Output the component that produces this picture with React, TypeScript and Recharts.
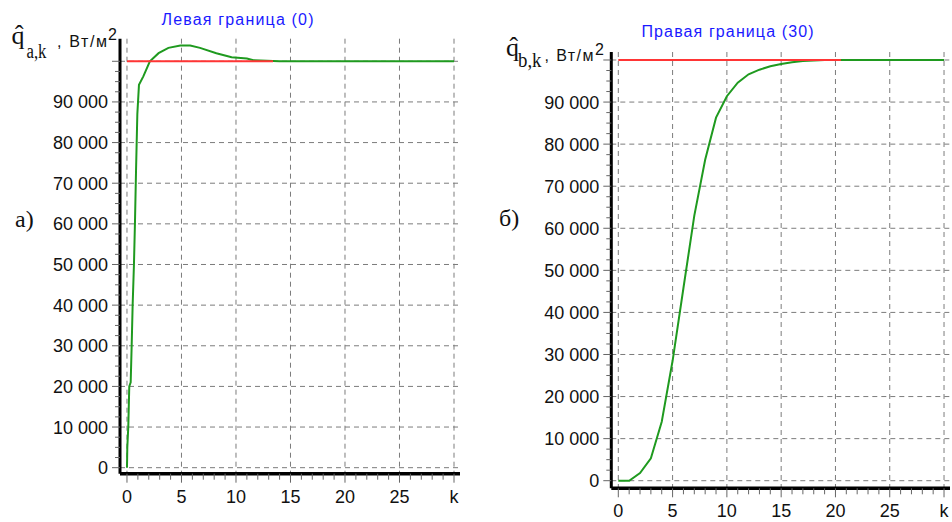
import React from "react";
import { LineChart, Line, XAxis, YAxis, CartesianGrid } from "recharts";

// Left boundary (0): estimated heat flux vs iteration k
const kLeft = [0, 0.03, 0.12, 0.21, 0.34, 0.43, 0.52, 0.64, 0.73, 0.83, 0.95, 1.1, 1.5, 2.1, 2.9, 3.8, 4.9, 5.8, 6.7, 8.2, 9.6, 11, 11.6, 13.4, 14, 30];
const qLeft = [0, 5000, 10000, 20000, 21000, 30000, 40000, 50000, 60000, 73000, 87000, 94200, 96300, 100000, 102000, 103300, 103900, 103900, 103300, 102000, 101000, 100700, 100250, 100100, 100000, 100000];
// Left boundary: exact flux
const kLeftExact = [0, 13.4];
const qLeftExact = [100000, 100000];

// Right boundary (30): estimated heat flux vs iteration k
const kRight = [0, 1, 2, 3, 4, 5, 6, 7, 8, 9, 10, 11, 12, 13, 14, 15, 16, 17, 18, 19, 20, 30];
const qRight = [0, 0, 1800, 5300, 14000, 28500, 45800, 63000, 76300, 86300, 91400, 94600, 96600, 97700, 98500, 99050, 99450, 99750, 99900, 100000, 100000, 100000];
// Right boundary: exact flux
const kRightExact = [0, 20.5];
const qRightExact = [100000, 100000];

// Axis ticks
const xMajor = [0, 5, 10, 15, 20, 25, 30];
const xLabels = ["0", "5", "10", "15", "20", "25", "k"];
const xMinor = Array.from({ length: 31 }, (_, i) => i);
const yMajor = [0, 10000, 20000, 30000, 40000, 50000, 60000, 70000, 80000, 90000, 100000];
const yLabels = ["0", "10 000", "20 000", "30 000", "40 000", "50 000", "60 000", "70 000", "80 000", "90 000", ""];
const yMinor = Array.from({ length: 41 }, (_, i) => i * 2500);

const SANS = "'Liberation Sans', Arial, sans-serif";
const SERIF = "'Liberation Serif', 'Times New Roman', serif";
const GREEN = "#1f9a1f";
const RED = "#ff3535";

const toRows = (ks: number[], qs: number[]) => ks.map((k, i) => ({ k, q: qs[i] }));

const YTick = (props: any) => {
  const { x, y, payload } = props;
  const v = payload.value;
  const idx = yMajor.indexOf(v);
  const major = idx >= 0;
  return (
    <g>
      <line x1={x - (major ? 8 : 5)} x2={x} y1={y} y2={y} stroke="#666" strokeWidth={1} />
      {major && yLabels[idx] !== "" && (
        <text x={x - 12} y={y} dy="0.36em" textAnchor="end" fontSize={18} fontFamily={SANS} fill="#111">
          {yLabels[idx]}
        </text>
      )}
    </g>
  );
};

const XTick = (props: any) => {
  const { x, y, payload } = props;
  const v = payload.value;
  const idx = xMajor.indexOf(v);
  const major = idx >= 0;
  return (
    <g>
      <line x1={x} x2={x} y1={y} y2={y + (major ? 9 : 6)} stroke="#666" strokeWidth={1} />
      {major && (
        <text x={x} y={y + 29} textAnchor="middle" fontSize={18} fontFamily={SANS} fill="#111">
          {xLabels[idx]}
        </text>
      )}
    </g>
  );
};

type PanelProps = {
  left: number;
  width: number;
  margin: { top: number; right: number; bottom: number; left: number };
  xDomain: [number, number];
  yDomain: [number, number];
  est: { k: number; q: number }[];
  exact: { k: number; q: number }[];
};

const Panel = ({ left, width, margin, xDomain, yDomain, est, exact }: PanelProps) => (
  <div style={{ position: "absolute", left, top: 0 }}>
    <LineChart width={width} height={522} margin={margin}>
      <CartesianGrid
        horizontalValues={yMajor}
        verticalValues={xMajor}
        stroke="#7c7c7c"
        strokeDasharray="5 4"
        strokeWidth={1}
      />
      <XAxis
        dataKey="k"
        type="number"
        domain={xDomain}
        allowDataOverflow
        ticks={xMinor}
        interval={0}
        tick={<XTick />}
        tickLine={false}
        tickSize={0}
        tickMargin={0}
        height={30}
        axisLine={{ stroke: "#000", strokeWidth: 3.5 }}
      />
      <YAxis
        type="number"
        domain={yDomain}
        allowDataOverflow
        ticks={yMinor}
        interval={0}
        tick={<YTick />}
        tickLine={false}
        tickSize={0}
        tickMargin={0}
        width={60}
        axisLine={{ stroke: "#000", strokeWidth: 3 }}
      />
      <XAxis
        xAxisId="top"
        orientation="top"
        type="number"
        domain={xDomain}
        allowDataOverflow
        height={0}
        tick={false}
        tickLine={false}
        axisLine={{ stroke: "#000", strokeWidth: 2.5 }}
      />
      <YAxis
        yAxisId="right"
        orientation="right"
        type="number"
        domain={yDomain}
        allowDataOverflow
        width={0}
        tick={false}
        tickLine={false}
        axisLine={{ stroke: "#000", strokeWidth: 3 }}
      />
      <Line data={est} dataKey="q" type="linear" stroke={GREEN} strokeWidth={2} dot={false} isAnimationActive={false} />
      <Line data={exact} dataKey="q" type="linear" stroke={RED} strokeWidth={2} dot={false} isAnimationActive={false} />
    </LineChart>
  </div>
);

export default function App() {
  return (
    <div style={{ position: "absolute", left: 0, top: 0, width: 952, height: 522, background: "#fff", overflow: "hidden" }}>
      <Panel
        left={0}
        width={480}
        margin={{ top: 38.7, right: 20, bottom: 18.3, left: 60 }}
        xDomain={[-0.64, 30.55]}
        yDomain={[-1480, 105560]}
        est={toRows(kLeft, qLeft)}
        exact={toRows(kLeftExact, qLeftExact)}
      />
      <Panel
        left={480}
        width={472}
        margin={{ top: 52, right: 2, bottom: 3.7, left: 71.3 }}
        xDomain={[-0.645, 30.55]}
        yDomain={[-1807, 101900]}
        est={toRows(kRight, qRight)}
        exact={toRows(kRightExact, qRightExact)}
      />
      <svg width={952} height={522} style={{ position: "absolute", left: 0, top: 0, pointerEvents: "none" }}>
        {/* titles */}
        <text x={237.5} y={25} textAnchor="middle" fontSize={16} fontFamily={SANS} fill="#1a1aff" textLength={152} lengthAdjust="spacing">
          Левая граница (0)
        </text>
        <text x={727.5} y={36.7} textAnchor="middle" fontSize={16} fontFamily={SANS} fill="#1a1aff" textLength={172} lengthAdjust="spacing">
          Правая граница (30)
        </text>

        {/* left axis caption */}
        <text x={11.5} y={43.5} fontSize={26} fontFamily={SERIF} fill="#111">q̂</text>
        <text x={26.5} y={58.3} fontSize={20} fontFamily={SERIF} fill="#111" textLength={20} lengthAdjust="spacingAndGlyphs">a,k</text>
        <text x={57} y={46.7} fontSize={16} fontFamily={SANS} fill="#111" textLength={50} lengthAdjust="spacing">, Вт/м</text>
        <text x={108} y={40} fontSize={16} fontFamily={SANS} fill="#111">2</text>

        {/* right axis caption */}
        <text x={506} y={55.5} fontSize={26} fontFamily={SERIF} fill="#111">q̂</text>
        <text x={518} y={66.5} fontSize={20} fontFamily={SERIF} fill="#111" textLength={23.5} lengthAdjust="spacingAndGlyphs">b,k</text>
        <text x={544.5} y={61} fontSize={16} fontFamily={SANS} fill="#111" textLength={49} lengthAdjust="spacing">, Вт/м</text>
        <text x={595} y={55} fontSize={16} fontFamily={SANS} fill="#111">2</text>

        {/* panel markers */}
        <text x={15} y={227} fontSize={24} fontFamily={SERIF} fill="#111">а)</text>
        <text x={499} y={226} fontSize={24} fontFamily={SERIF} fill="#111">б)</text>
      </svg>
    </div>
  );
}
